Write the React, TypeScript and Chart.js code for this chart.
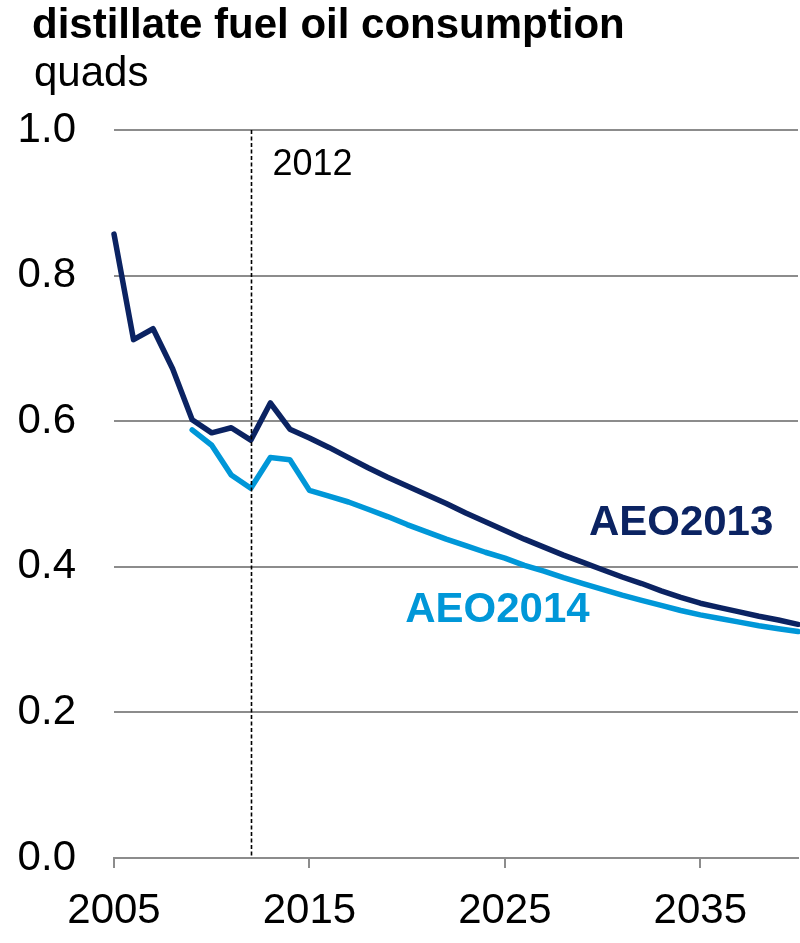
import React, { useEffect, useRef } from "react";
import { Chart, registerables } from "chart.js";

Chart.register(...registerables);

const years = [
  2005, 2006, 2007, 2008, 2009, 2010, 2011, 2012, 2013, 2014, 2015, 2016,
  2017, 2018, 2019, 2020, 2021, 2022, 2023, 2024, 2025, 2026, 2027, 2028,
  2029, 2030, 2031, 2032, 2033, 2034, 2035, 2036, 2037, 2038, 2039, 2040,
];

const aeo2013 = [
  0.857, 0.712, 0.727, 0.672, 0.602, 0.584, 0.591, 0.574, 0.625, 0.589,
  0.577, 0.564, 0.55, 0.536, 0.523, 0.511, 0.499, 0.487, 0.474, 0.462,
  0.45, 0.438, 0.427, 0.416, 0.406, 0.396, 0.386, 0.377, 0.367, 0.358,
  0.35, 0.344, 0.338, 0.332, 0.327, 0.321,
];

const aeo2014: (number | null)[] = [
  null, null, null, null, 0.588, 0.567, 0.526, 0.508, 0.55, 0.547,
  0.505, 0.497, 0.489, 0.479, 0.469, 0.458, 0.448, 0.438, 0.429, 0.42,
  0.412, 0.402, 0.394, 0.385, 0.377, 0.369, 0.361, 0.354, 0.347, 0.34,
  0.334, 0.329, 0.324, 0.319, 0.315, 0.311,
];

const xTicks = [2005, 2015, 2025, 2035];
const yTicks = [0, 0.2, 0.4, 0.6, 0.8, 1.0];
const markerYear = 2012;

const title = "distillate fuel oil consumption";
const unitLabel = "quads";
const series2013Label = "AEO2013";
const series2014Label = "AEO2014";

const NAVY = "#0b2362";
const LIGHT = "#0097d8";
const GRID = "#8c8c8c";
const FONT = "'Liberation Sans', Arial, sans-serif";

export default function App() {
  const ref = useRef<HTMLCanvasElement | null>(null);

  useEffect(() => {
    if (!ref.current) return;

    const overlay = {
      id: "overlay",
      afterDatasetsDraw(chart: any) {
        const { ctx, chartArea, scales } = chart;
        const xs = scales.x;
        const ys = scales.y;
        ctx.save();
        const mx = Math.round(xs.getPixelForValue(markerYear)) + 0.5;
        ctx.strokeStyle = "#000";
        ctx.lineWidth = 1.6;
        ctx.setLineDash([4, 2.5]);
        ctx.beginPath();
        ctx.moveTo(mx, chartArea.top);
        ctx.lineTo(mx, chartArea.bottom);
        ctx.stroke();
        ctx.setLineDash([]);

        ctx.fillStyle = "#000";
        ctx.textAlign = "left";
        ctx.textBaseline = "alphabetic";
        ctx.font = `36px ${FONT}`;
        ctx.fillText(String(markerYear), mx + 21, chartArea.top + 45);

        ctx.font = `bold 42px ${FONT}`;
        ctx.fillStyle = NAVY;
        ctx.fillText(series2013Label, xs.getPixelForValue(2029.3), ys.getPixelForValue(0.4437));
        ctx.fillStyle = LIGHT;
        ctx.fillText(series2014Label, xs.getPixelForValue(2019.9), ys.getPixelForValue(0.3246));

        ctx.fillStyle = "#000";
        ctx.font = `bold 42px ${FONT}`;
        ctx.fillText(title, 32, 38);
        ctx.font = `42px ${FONT}`;
        ctx.fillText(unitLabel, 34, 86);
        ctx.restore();
      },
    };

    const chart = new Chart(ref.current, {
      type: "line",
      data: {
        datasets: [
          {
            label: series2013Label,
            data: years.map((y, i) => ({ x: y, y: aeo2013[i] })),
            borderColor: NAVY,
            borderWidth: 5.5,
            pointRadius: 0,
            borderCapStyle: "round",
            borderJoinStyle: "round",
            tension: 0,
            clip: false as any,
          },
          {
            label: series2014Label,
            data: years.map((y, i) => ({ x: y, y: aeo2014[i] as any })),
            borderColor: LIGHT,
            borderWidth: 5.5,
            pointRadius: 0,
            borderCapStyle: "round",
            borderJoinStyle: "round",
            tension: 0,
            spanGaps: false,
            clip: false as any,
          },
        ],
      },
      options: {
        responsive: false,
        animation: false,
        layout: { padding: { top: 130, right: 2, left: 0, bottom: 0 } },
        plugins: {
          legend: { display: false },
          title: { display: false },
          tooltip: { enabled: false },
        },
        scales: {
          x: {
            type: "linear",
            min: 2005,
            max: 2040,
            afterBuildTicks: (axis: any) => {
              axis.ticks = xTicks.map((v) => ({ value: v }));
            },
            afterFit: (s: any) => {
              s.height = 85;
            },
            grid: {
              drawOnChartArea: false,
              drawTicks: true,
              tickLength: 10,
              color: GRID,
              lineWidth: 2,
            },
            border: { display: true, color: GRID, width: 2 },
            ticks: {
              color: "#000",
              font: { family: FONT, size: 42 },
              padding: 18,
              maxRotation: 0,
              autoSkip: false,
              callback: (v: any) => String(v),
            },
          },
          y: {
            min: 0,
            max: 1,
            afterBuildTicks: (axis: any) => {
              axis.ticks = yTicks.map((v) => ({ value: v }));
            },
            afterFit: (s: any) => {
              s.width = 114;
            },
            grid: { color: GRID, lineWidth: 2, drawTicks: false },
            border: { display: false },
            ticks: {
              color: "#000",
              font: { family: FONT, size: 42 },
              padding: 38,
              callback: (v: any) => Number(v).toFixed(1),
            },
          },
        },
      },
      plugins: [overlay],
    });

    return () => chart.destroy();
  }, []);

  return (
    <div style={{ position: "absolute", left: 0, top: 0, width: 800, height: 943, background: "#fff" }}>
      <canvas ref={ref} width={800} height={943} style={{ display: "block" }} />
    </div>
  );
}
